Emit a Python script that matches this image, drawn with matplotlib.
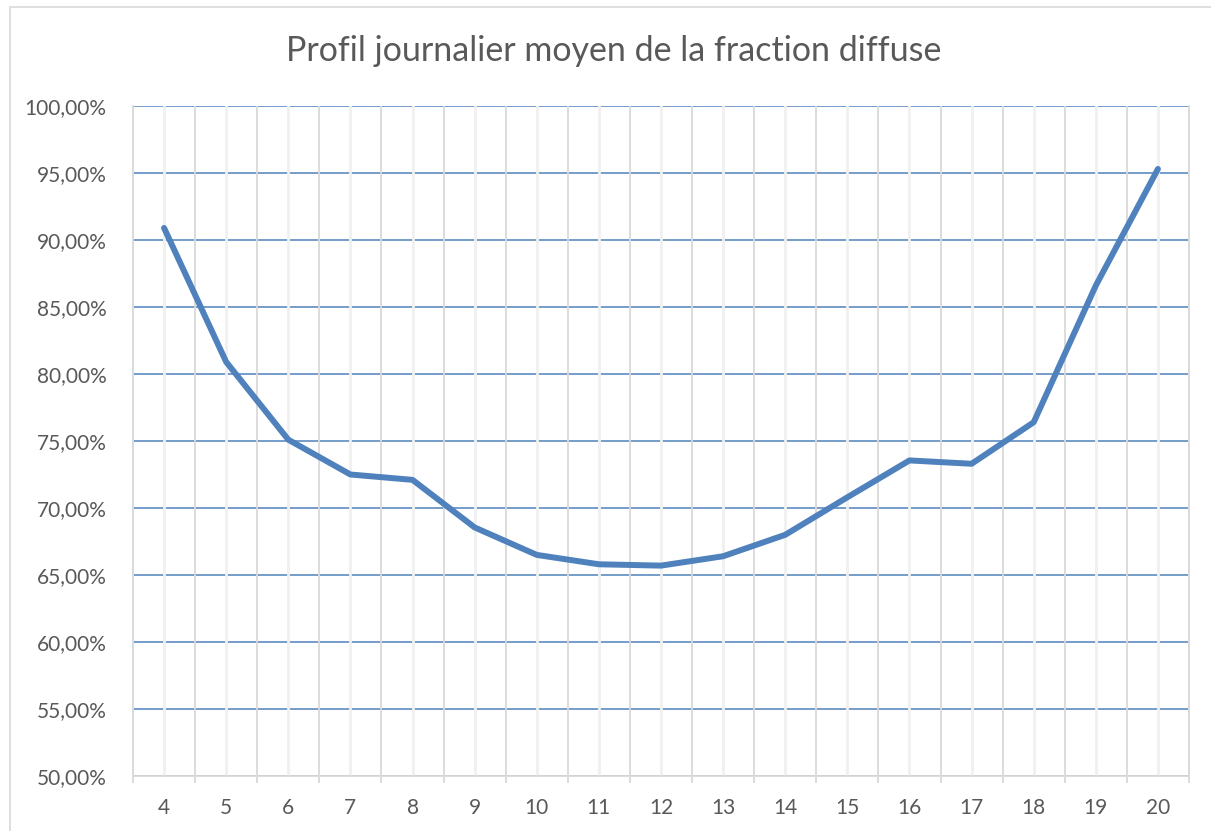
import matplotlib
matplotlib.use("Agg")
import matplotlib.pyplot as plt
import numpy as np
from matplotlib.patches import Rectangle

# heure de la journee et fraction diffuse moyenne (%)
heures = [4, 5, 6, 7, 8, 9, 10, 11, 12, 13, 14, 15, 16, 17, 18, 19, 20]
fraction = [90.9, 80.9, 75.1, 72.5, 72.1, 68.55, 66.5, 65.8, 65.7, 66.4, 68.0,
            70.8, 73.55, 73.3, 76.4, 86.6, 95.3]
y_ticks = [50, 55, 60, 65, 70, 75, 80, 85, 90, 95, 100]
y_labels = ["50,00%", "55,00%", "60,00%", "65,00%", "70,00%", "75,00%",
            "80,00%", "85,00%", "90,00%", "95,00%", "100,00%"]
titre = "Profil journalier moyen de la fraction diffuse"

plt.rcParams['font.family'] = ['Lato', 'DejaVu Sans']
txt = '#595959'
blue = '#4F81BD'
grid_dark = '#d9d9d9'
grid_light = '#f0f0f0'

fig = plt.figure(figsize=(12.11, 8.31), dpi=100)
ax = fig.add_axes([133/1211, 1 - 776/831, (1189 - 133)/1211, (776 - 106)/831])

ax.plot(heures, fraction, color=blue, lw=4.3, solid_capstyle='round',
        solid_joinstyle='round', zorder=3)

ax.set_xlim(heures[0] - 0.5, heures[-1] + 0.5)
ax.set_ylim(50, 100)

# category boundaries -> major ticks / dark gridlines
bounds = np.arange(heures[0] - 0.5, heures[-1] + 1, 1.0)
ax.set_xticks(bounds)
ax.set_xticklabels([])
ax.set_xticks(heures, minor=True)
ax.set_xticklabels([str(h) for h in heures], minor=True)
ax.tick_params(axis='x', which='major', length=5, color=grid_dark, width=1.3)
ax.tick_params(axis='x', which='minor', length=0, pad=16, labelsize=15, labelcolor=txt)

ax.set_yticks(y_ticks)
ax.set_yticklabels(y_labels)
ax.tick_params(axis='y', length=0, pad=19, labelsize=15, labelcolor=txt)

ax.grid(axis='y', color=blue, lw=1.1)
ax.grid(axis='x', which='major', color=grid_dark, lw=1.3)
ax.grid(axis='x', which='minor', color=grid_light, lw=2)
ax.yaxis.set_zorder(0.5)
ax.xaxis.set_zorder(0.7)

for s in ['top']:
    ax.spines[s].set_visible(False)
for s in ['left', 'right', 'bottom']:
    ax.spines[s].set_color(grid_dark)
    ax.spines[s].set_linewidth(1.3)

fig.text(0.507, 1 - 51/831, titre, ha='center', va='center', fontsize=24.5,
         color=txt)

# chart border
fig.add_artist(Rectangle((10/1211, -0.01), 1.0, 1 - 7/831 + 0.01,
                         transform=fig.transFigure, fill=False,
                         edgecolor=grid_dark, lw=1.2))

fig.savefig("out.png", dpi=100)
